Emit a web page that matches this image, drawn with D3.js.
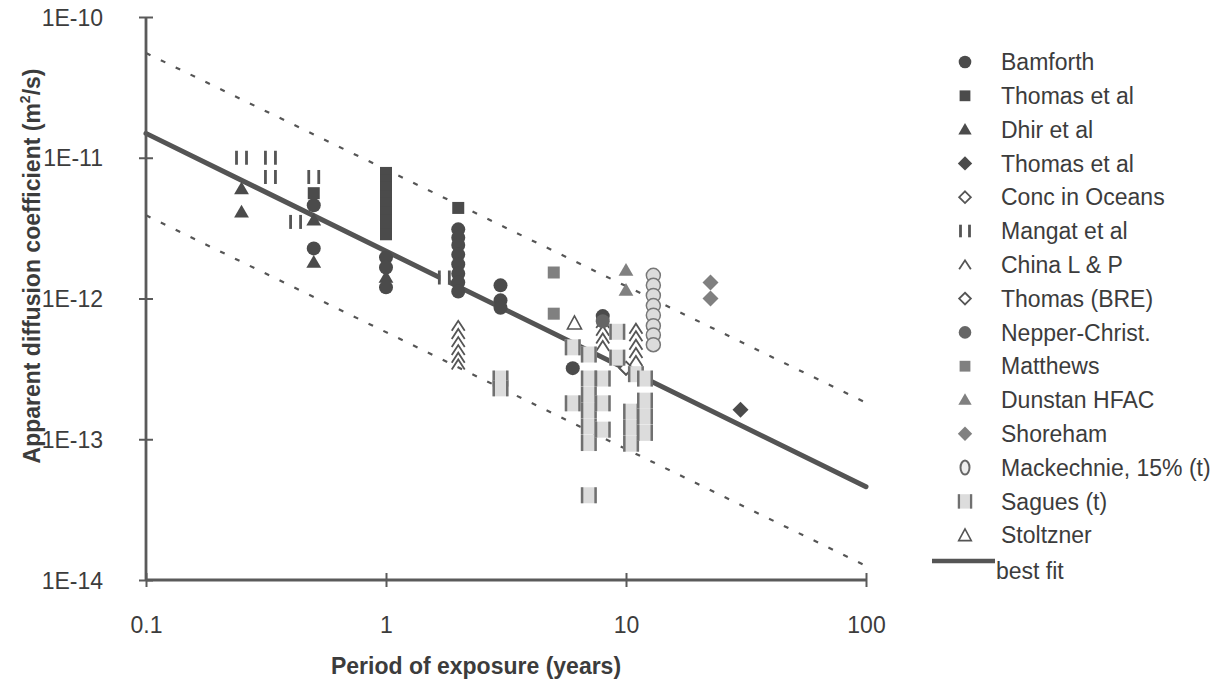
<!DOCTYPE html>
<html>
<head>
<meta charset="utf-8">
<script src="https://cdn.jsdelivr.net/npm/d3@7"></script>
<style>
  html, body { margin: 0; padding: 0; background: #fff; }
  svg { display: block; font-family: "Liberation Sans", Arial, sans-serif; }
</style>
</head>
<body>
<svg id="chart" width="1226" height="686"></svg>
<script>
// ---- data: exposure period (years) vs apparent diffusion coefficient (m2/s) ----
const xTickValues = [0.1, 1, 10, 100];
const xTickLabels = ["0.1", "1", "10", "100"];
const yTickValues = [1e-10, 1e-11, 1e-12, 1e-13, 1e-14];
const yTickLabels = ["1E-10", "1E-11", "1E-12", "1E-13", "1E-14"];

const bamforth = [[0.5,4.6e-12],[0.5,2.27e-12],[1,1.96e-12],[1,1.66e-12],[1,1.2e-12],
  [2,3.1e-12],[2,2.7e-12],[2,2.4e-12],[2,2.05e-12],[2,1.75e-12],[2,1.5e-12],[2,1.3e-12],[2,1.12e-12],
  [3,1.24e-12],[3,9.7e-13],[3,8.6e-13],[6,3.2e-13],[8,7.5e-13]];
const thomasSquares = [[0.5,5.6e-12],[1,7.8e-12],[1,6.9e-12],[1,6.1e-12],[1,5.3e-12],[1,4.7e-12],
  [1,4.1e-12],[1,3.6e-12],[1,3.15e-12],[1,2.86e-12],[2,4.4e-12]];
const dhir = [[0.25,6.0e-12],[0.25,4.1e-12],[0.5,3.6e-12],[0.5,1.8e-12],[1,1.41e-12]];
const thomasDiamonds = [[30,1.62e-13]];
const concOceans = [[10,3.2e-13]];
const mangat = [[0.25,1.0e-11],[0.33,1.0e-11],[0.33,7.3e-12],[0.42,3.5e-12],[0.5,7.3e-12],[1.75,1.41e-12]];
const chinaLP = [[2,6.4e-13],[2,5.6e-13],[2,4.9e-13],[2,4.3e-13],[2,3.8e-13],[2,3.4e-13],
  [8,6.7e-13],[8,5.9e-13],[8,5.2e-13],[8,4.6e-13],
  [11,6.1e-13],[11,5.4e-13],[11,4.7e-13],[11,4.1e-13],[11,3.6e-13]];
const thomasBRE = [[10,3.2e-13]];
const nepperChrist = [[8,6.9e-13]];
const matthews = [[5,1.53e-12],[5,7.8e-13]];
const dunstan = [[10,1.58e-12],[10,1.14e-12]];
const shoreham = [[22.5,1.3e-12],[22.5,1.0e-12]];
const mackechnie = [[13,1.46e-12],[13,1.24e-12],[13,1.05e-12],[13,8.9e-13],[13,7.6e-13],[13,6.4e-13],[13,5.5e-13],[13,4.7e-13]];
const sagues = [[3,2.7e-13],[3,2.3e-13],[6,4.5e-13],[6,1.8e-13],[7,4.0e-13],[7,2.7e-13],[7,2.07e-13],
  [7,1.6e-13],[7,1.23e-13],[7,9.4e-14],[7,4.0e-14],[8,2.7e-13],[8,1.8e-13],[8,1.17e-13],
  [9.2,5.8e-13],[9.2,3.8e-13],[10.5,1.57e-13],[10.5,1.21e-13],[10.5,9.3e-14],[11,2.9e-13],
  [12,2.7e-13],[12,1.88e-13],[12,1.45e-13],[12,1.11e-13]];
const stoltzner = [[6.1,6.7e-13]];

const bestFit = [[0.1,1.49e-11],[100,4.6e-14]];
const upperBound = [[0.1,5.55e-11],[100,1.82e-13]];
const lowerBound = [[0.1,3.9e-12],[100,1.26e-14]];

// ---- series definitions (drawn in this order, later ones on top) ----
const DARK = "#4b4b4b", MID = "#808080";
const series = [
  { name: "Bamforth",           data: bamforth,       sym: "circle",   fill: DARK },
  { name: "Thomas et al",       data: thomasSquares,  sym: "square",   fill: DARK },
  { name: "Dhir et al",         data: dhir,           sym: "triangle", fill: DARK },
  { name: "Thomas et al",       data: thomasDiamonds, sym: "diamond",  fill: DARK },
  { name: "Conc in Oceans",     data: concOceans,     sym: "odiamond" },
  { name: "Mangat et al",       data: mangat,         sym: "bars" },
  { name: "China L & P",        data: chinaLP,        sym: "chevron" },
  { name: "Thomas (BRE)",       data: thomasBRE,      sym: "odiamond" },
  { name: "Nepper-Christ.",     data: nepperChrist,   sym: "circle",   fill: "#666" },
  { name: "Matthews",           data: matthews,       sym: "square",   fill: MID },
  { name: "Dunstan HFAC",       data: dunstan,        sym: "triangle", fill: MID },
  { name: "Shoreham",           data: shoreham,       sym: "diamond",  fill: MID },
  { name: "Mackechnie, 15% (t)",data: mackechnie,     sym: "ocircle" },
  { name: "Sagues (t)",         data: sagues,         sym: "box" },
  { name: "Stoltzner",          data: stoltzner,      sym: "otriangle" }
];

const svg = d3.select("#chart");
const x = d3.scaleLog().domain([0.1, 100]).range([146, 866]);
const y = d3.scaleLog().domain([1e-14, 1e-10]).range([580, 17]);
const TEXT = "#3c3c3c", AXIS = "#5a5a5a";

// ---- reference lines (behind markers) ----
const line = d3.line().x(d => x(d[0])).y(d => y(d[1]));
[upperBound, lowerBound].forEach(b => {
  svg.append("path").attr("d", line(b)).attr("fill", "none")
    .attr("stroke", "#555").attr("stroke-width", 2.2).attr("stroke-dasharray", "5,11.5");
});
svg.append("path").attr("d", line(bestFit)).attr("fill", "none")
  .attr("stroke", "#545454").attr("stroke-width", 5).attr("stroke-linecap", "round");

// ---- axes ----
const yAxis = svg.append("g").attr("transform", `translate(${x(0.1)},0)`)
  .call(d3.axisLeft(y).tickValues(yTickValues).tickFormat((d, i) => yTickLabels[i]).tickSize(7));
const xAxis = svg.append("g").attr("transform", `translate(0,${y(1e-14)})`)
  .call(d3.axisBottom(x).tickValues(xTickValues).tickFormat((d, i) => xTickLabels[i]).tickSize(7));
[yAxis, xAxis].forEach(g => {
  g.select(".domain").attr("stroke", AXIS).attr("stroke-width", 2.8);
  g.selectAll(".tick line").attr("stroke", AXIS).attr("stroke-width", 2);
  g.selectAll(".tick text").attr("fill", TEXT).attr("font-size", 23)
    .attr("font-family", "'Liberation Sans', Arial, sans-serif");
});
yAxis.select(".domain").attr("d", `M0,${y(1e-10)}V${y(1e-14)}`);
xAxis.select(".domain").attr("d", `M${x(0.1)},0H${x(100)}`);
yAxis.selectAll(".tick line").attr("x1", 7).attr("x2", -7);
yAxis.selectAll(".tick text").attr("x", -43).attr("dy", "0.35em");
xAxis.selectAll(".tick line").attr("y1", -7).attr("y2", 7);
xAxis.selectAll(".tick text").attr("y", 37).attr("dy", "0.71em");

// axis titles
svg.append("text").attr("transform", "translate(40,266) rotate(-90)")
  .attr("text-anchor", "middle").attr("font-size", 23).attr("font-weight", "bold").attr("fill", TEXT)
  .call(t => {
    t.append("tspan").text("Apparent diffusion coefficient (m");
    t.append("tspan").text("2").attr("font-size", 14).attr("dy", -10);
    t.append("tspan").text("/s)").attr("dy", 10);
  });
svg.append("text").attr("x", 476).attr("y", 674).attr("text-anchor", "middle")
  .attr("font-size", 23).attr("font-weight", "bold").attr("fill", TEXT)
  .text("Period of exposure (years)");

// ---- marker drawing ----
function drawSymbol(g, s, legend) {
  const k = legend ? 0.9 : 1;
  switch (s.sym) {
    case "circle":
      g.append("circle").attr("r", 7 * k).attr("fill", s.fill); break;
    case "square":
      g.append("rect").attr("x", -6 * k).attr("y", -6 * k).attr("width", 12 * k).attr("height", 12 * k).attr("fill", s.fill); break;
    case "triangle":
      g.append("path").attr("d", d3.symbol(d3.symbolTriangle, 95 * k * k)()).attr("fill", s.fill)
        .attr("transform", "translate(0,1)"); break;
    case "diamond":
      g.append("path").attr("d", `M0,${-8*k}L${8*k},0L0,${8*k}L${-8*k},0Z`).attr("fill", s.fill); break;
    case "odiamond":
      g.append("path").attr("d", `M0,${-6.5*k}L${6.5*k},0L0,${6.5*k}L${-6.5*k},0Z`)
        .attr("fill", "#fff").attr("stroke", "#555").attr("stroke-width", 1.8); break;
    case "bars":
      if (!legend) g.append("rect").attr("x", -4).attr("y", -7).attr("width", 8).attr("height", 14).attr("fill", "#fff");
      [-5, 5].forEach(dx => g.append("rect").attr("x", dx * k - 1.4).attr("y", -7 * k)
        .attr("width", 2.8).attr("height", 14 * k).attr("fill", "#555"));
      break;
    case "chevron":
      g.append("path").attr("d", `M${-6.5*k},${5*k}L0,${-5*k}L${6.5*k},${5*k}`)
        .attr("fill", "none").attr("stroke", "#555").attr("stroke-width", 1.8); break;
    case "ocircle":
      if (legend) g.append("ellipse").attr("rx", 4.5).attr("ry", 7).attr("fill", "#eee").attr("stroke", "#666").attr("stroke-width", 2);
      else g.append("circle").attr("r", 7).attr("fill", "#dcdcdc").attr("stroke", "#777").attr("stroke-width", 1.5);
      break;
    case "box":
      g.append("rect").attr("x", -8 * k).attr("y", -8 * k).attr("width", 16 * k).attr("height", 16 * k).attr("fill", "#dcdcdc");
      [-8, 5.5].forEach(dx => g.append("rect").attr("x", dx * k).attr("y", -8 * k)
        .attr("width", 2.5 * k).attr("height", 16 * k).attr("fill", "#707070"));
      break;
    case "otriangle":
      g.append("path").attr("d", `M${-7*k},${6*k}L0,${-7*k}L${7*k},${6*k}Z`)
        .attr("fill", "#fff").attr("stroke", "#555").attr("stroke-width", 1.6); break;
  }
}

series.forEach(s => {
  const layer = svg.append("g");
  s.data.forEach(d => {
    const g = layer.append("g").attr("transform", `translate(${x(d[0])},${y(d[1])})`);
    drawSymbol(g, s, false);
  });
});

// ---- legend ----
const legend = svg.append("g");
series.forEach((s, i) => {
  const cy = 62 + i * 33.8;
  const g = legend.append("g").attr("transform", `translate(965,${cy})`);
  drawSymbol(g, s, true);
  legend.append("text").attr("x", 1001).attr("y", cy).attr("dy", "0.36em")
    .attr("font-size", 23).attr("fill", TEXT).text(s.name);
});
const fitY = 62 + series.length * 33.8;
legend.append("line").attr("x1", 932).attr("x2", 995).attr("y1", fitY - 8).attr("y2", fitY - 8)
  .attr("stroke", "#555").attr("stroke-width", 4.5);
legend.append("text").attr("x", 996).attr("y", fitY + 2).attr("dy", "0.36em")
  .attr("font-size", 23).attr("fill", TEXT).text("best fit");
</script>
</body>
</html>
